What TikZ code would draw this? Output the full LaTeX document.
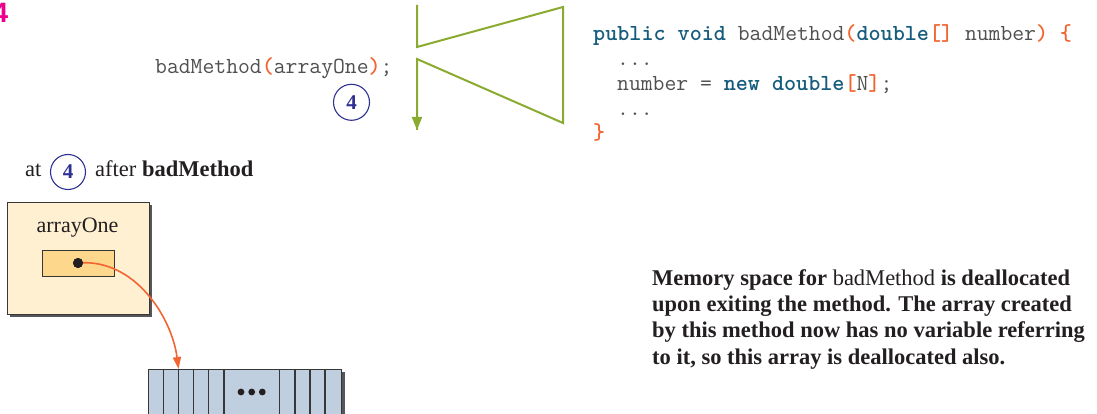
\documentclass[tikz,border=0pt]{standalone}
\usepackage{fontspec}
\setmainfont{Liberation Serif}
\setsansfont{Liberation Sans}
\usetikzlibrary{arrows.meta}
\definecolor{kw}{RGB}{22,92,124}
\definecolor{op}{RGB}{242,101,50}
\definecolor{codegray}{RGB}{80,80,80}
\definecolor{numblue}{RGB}{46,49,146}
\definecolor{flowgreen}{RGB}{138,171,47}
\definecolor{framefill}{RGB}{255,240,210}
\definecolor{cellfill}{RGB}{253,216,140}
\definecolor{arrfill}{RGB}{192,207,224}
\definecolor{edge}{RGB}{55,55,55}
\definecolor{shadowc}{RGB}{85,85,90}
\definecolor{magentac}{RGB}{236,0,140}
\definecolor{txt}{RGB}{35,31,32}
\newcommand{\kwd}[1]{{\color{kw}\bfseries #1}}
\newcommand{\opr}[1]{{\color{op}\bfseries #1}}
\tikzset{
  codetext/.style={anchor=base west, inner sep=0pt, font=\ttfamily\fontsize{23}{26}\selectfont, text=codegray},
  paratext/.style={anchor=base west, inner sep=0pt, font=\fontsize{22.5}{26}\selectfont, text=txt},
  stepnum/.style={circle, draw=numblue, line width=1.1pt, minimum size=36pt, inner sep=0pt, text=numblue, font=\bfseries\fontsize{21}{24}\selectfont},
  flow/.style={draw=flowgreen, line width=2pt},
  refarrow/.style={draw=op, line width=1.6pt, -{Triangle[length=12pt,width=8pt]}},
  boxedge/.style={draw=edge, line width=1.1pt}
}
\begin{document}
\begin{tikzpicture}[x=1pt,y=-1pt]
\useasboundingbox (0,0) rectangle (1097,414);
% step marker cut at the corner
\node[anchor=base east, inner sep=0pt, text=magentac, font=\sffamily\bfseries\fontsize{28}{30}\selectfont] (stepmark) at (8.5,23) {4};
% caller code
\node[codetext] (call) at (155,74) {badMethod\opr{(}arrayOne\opr{)};};
\node[stepnum] (c4top) at (351.5,102.3) {4};
% green flow
\coordinate (g1) at (417,5);
\coordinate (g2) at (417,47);
\coordinate (g3) at (563,7);
\coordinate (g4) at (563,123);
\coordinate (g5) at (417,59);
\coordinate (g6) at (417,130);
\draw[flow, line join=miter] (g1) -- (g2) -- (g3) -- (g4) -- (g5) -- (g6);
\draw[flow, -{Triangle[length=13pt,width=10pt]}] (g5) -- (g6);
% method code
\node[codetext] (l1) at (593,40.5) {\kwd{public void} badMethod\opr{(}\kwd{double}\opr{[]} number\opr{)} \opr{\{}};
\node[codetext] (l2) at (617,65.5) {...};
\node[codetext] (l3) at (617,90.5) {number = \kwd{new double}\opr{[}N\opr{]};};
\node[codetext] (l4) at (617,115.5) {...};
\node[codetext] (l5) at (593,140) {\opr{\}}};
% caption
\node[paratext] (at) at (25,177) {at};
\node[stepnum, minimum size=35pt] (c4) at (68,172) {4};
\node[paratext] (after) at (95,177) {after \textbf{badMethod}};
% frame with shadow
\fill[shadowc] (10,205) rectangle (152,317);
\node[boxedge, fill=framefill, anchor=north west, minimum width=142pt, minimum height=112pt, inner sep=0pt] (frame) at (7,202) {};
\node[anchor=base, inner sep=0pt, font=\fontsize{22}{24}\selectfont, text=txt] (name) at (77.5,233) {arrayOne};
\node[boxedge, fill=cellfill, anchor=north west, minimum width=72pt, minimum height=26pt, inner sep=0pt] (ref) at (42,250) {};
\node[circle, fill=txt, minimum size=10pt, inner sep=0pt] (dot) at (78,263) {};
% array with shadow
\fill[shadowc] (341,372) rectangle (345,416);
\node[boxedge, fill=arrfill, anchor=north west, minimum width=193pt, minimum height=50pt, inner sep=0pt] (arr) at (148,369) {};
\foreach \x in {163.3,178.7,193.7,208.7,224,279.3,295,310,325} {
  \draw[edge, line width=1.1pt] (\x,369) -- (\x,416);
}
\foreach \x in {241,251.7,262.3} {
  \fill[txt] (\x,392) circle (3.4);
}
\coordinate (tip) at (178.5,369);
\draw[refarrow] (dot.center) .. controls (135,258) and (172,318) .. (tip);
\node[circle, fill=txt, minimum size=10pt, inner sep=0pt] at (dot) {};
% explanation
\node[paratext] (p1) at (652,285) {\textbf{Memory space for} badMethod \textbf{is deallocated}};
\node[paratext] (p2) at (652,311.3) {\textbf{upon exiting the method. The array created}};
\node[paratext] (p3) at (652,337.6) {\textbf{by this method now has no variable referring}};
\node[paratext] (p4) at (652,364) {\textbf{to it, so this array is deallocated also.}};
\end{tikzpicture}
\end{document}
